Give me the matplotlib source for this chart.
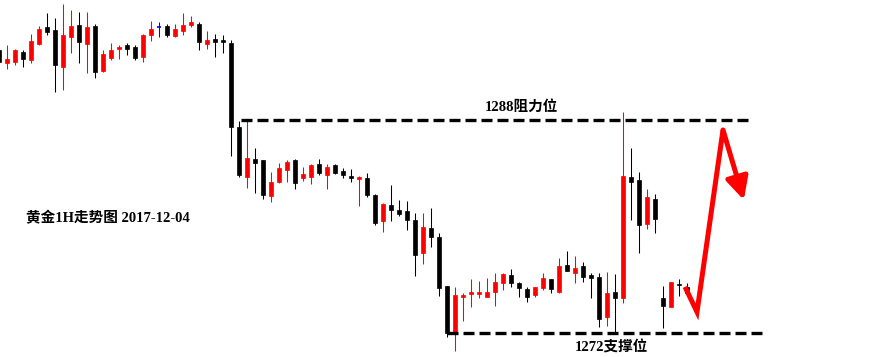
import matplotlib
matplotlib.use("Agg")
import matplotlib.pyplot as plt
from matplotlib.patches import Rectangle

plt.rcParams['font.family'] = ['Liberation Serif', 'Noto Sans CJK SC', 'DejaVu Sans']

# 黄金 1H candles, 2017-12-04
opens = [1293.25, 1292.28, 1292.35, 1293.10, 1292.50, 1293.70, 1294.98, 1294.75, 1291.98, 1294.23,
         1295.13, 1293.70, 1295.05, 1291.68, 1292.65, 1293.33, 1293.63, 1293.48, 1292.73, 1294.38,
         1294.98, 1295.05, 1294.30, 1294.68, 1295.13, 1295.20, 1293.70, 1294.08, 1294.00, 1293.78,
         1287.48, 1283.73, 1285.08, 1285.00, 1282.30, 1283.35, 1284.25, 1285.00, 1283.65, 1283.73,
         1284.70, 1283.88, 1284.63, 1284.18, 1283.80, 1283.58, 1283.65, 1282.38, 1280.43, 1281.63,
         1281.25, 1281.18, 1280.50, 1278.03, 1279.90, 1279.23, 1275.55, 1272.10, 1274.73, 1274.95,
         1274.95, 1274.73, 1275.10, 1275.78, 1276.38, 1275.78, 1275.33, 1274.88, 1275.40, 1276.08,
         1275.10, 1277.13, 1276.53, 1277.05, 1276.38, 1276.23, 1273.23, 1275.10, 1274.65, 1283.73,
         1283.50, 1280.20, 1282.08, 1274.65, 1273.98, 1275.70, 1275.48]
highs = [1293.40, 1293.63, 1293.33, 1293.25, 1294.45, 1295.05, 1296.03, 1295.65, 1296.70, 1296.25,
         1296.10, 1296.10, 1295.20, 1293.25, 1293.78, 1293.63, 1293.78, 1293.63, 1294.45, 1295.43,
         1295.35, 1295.20, 1295.20, 1296.03, 1295.80, 1295.35, 1294.68, 1294.45, 1294.38, 1294.00,
         1287.93, 1287.93, 1285.90, 1285.00, 1284.10, 1284.78, 1285.00, 1285.08, 1284.48, 1284.70,
         1285.08, 1284.70, 1284.70, 1284.40, 1284.33, 1283.80, 1284.03, 1282.45, 1281.78, 1283.13,
         1282.00, 1281.93, 1281.03, 1281.03, 1281.40, 1279.53, 1275.55, 1275.48, 1275.03, 1276.08,
         1275.93, 1276.15, 1276.53, 1276.53, 1276.83, 1275.85, 1275.48, 1275.48, 1276.53, 1276.08,
         1277.65, 1278.18, 1277.80, 1277.35, 1276.53, 1276.53, 1276.60, 1276.45, 1288.60, 1285.90,
         1284.10, 1282.83, 1282.45, 1275.55, 1275.85, 1276.08, 1275.78]
lows = [1292.28, 1291.83, 1292.13, 1291.98, 1292.28, 1293.63, 1294.38, 1290.10, 1290.25, 1293.03,
        1292.28, 1291.53, 1291.15, 1291.60, 1292.50, 1292.58, 1292.88, 1292.50, 1292.35, 1293.93,
        1294.23, 1294.23, 1294.23, 1294.38, 1294.98, 1293.25, 1293.33, 1292.73, 1293.03, 1285.30,
        1283.73, 1282.90, 1282.53, 1282.08, 1281.85, 1283.28, 1283.35, 1282.83, 1283.43, 1283.20,
        1283.88, 1282.83, 1283.95, 1283.65, 1283.35, 1281.55, 1282.23, 1280.13, 1279.60, 1280.43,
        1280.80, 1279.75, 1276.30, 1277.20, 1278.48, 1274.80, 1271.73, 1270.68, 1272.93, 1273.98,
        1274.65, 1274.73, 1274.05, 1275.25, 1275.48, 1274.73, 1274.35, 1274.73, 1275.25, 1275.03,
        1275.03, 1276.68, 1275.78, 1275.85, 1274.65, 1272.48, 1272.55, 1272.03, 1274.28, 1280.50,
        1278.03, 1279.83, 1279.53, 1272.40, 1273.98, 1274.80, 1275.03]
closes = [1292.35, 1292.58, 1293.25, 1292.58, 1293.93, 1294.83, 1294.60, 1292.13, 1294.38, 1295.05,
          1293.85, 1294.98, 1291.60, 1292.95, 1293.25, 1293.48, 1293.33, 1292.65, 1294.38, 1294.83,
          1294.98, 1294.38, 1294.83, 1295.13, 1295.35, 1293.85, 1294.00, 1293.85, 1293.85, 1287.48,
          1283.88, 1285.15, 1284.78, 1282.38, 1283.35, 1284.40, 1284.85, 1283.28, 1283.95, 1284.63,
          1284.03, 1284.48, 1284.03, 1283.88, 1283.65, 1283.73, 1282.38, 1280.28, 1281.70, 1281.25,
          1280.95, 1280.50, 1277.88, 1279.98, 1279.23, 1275.40, 1272.00, 1274.88, 1274.88, 1275.10,
          1275.10, 1275.10, 1275.85, 1276.45, 1275.78, 1275.40, 1274.73, 1275.48, 1276.15, 1275.33,
          1277.05, 1276.68, 1276.90, 1276.23, 1276.15, 1273.08, 1275.03, 1274.65, 1283.80, 1283.35,
          1280.13, 1282.23, 1280.58, 1274.05, 1275.85, 1275.63, 1275.03]

resistance = 1288
support = 1272
res_span = (30.25, 93.6)
sup_span = (56.0, 95.5)

# forecast path drawn in red
path_x = [85.75, 87.25, 90.5, 93.1]
path_y = [1275.48, 1273.6, 1287.25, 1282.0]

fig = plt.figure(figsize=(8.69, 3.57), dpi=100)
ax = fig.add_axes([0, 0, 1, 1])
ax.set_xlim(0.125, 108.75)
ax.set_ylim(1270.22, 1297.0)
ax.axis('off')

body_w = 0.62
for i, (o, h, l, c) in enumerate(zip(opens, highs, lows, closes)):
    if c > o:
        col = 'red'
    elif c < o:
        col = 'black'
    else:
        col = 'blue'
    ax.vlines(i, l, h, color=col, lw=0.75)
    if c == o:
        ax.hlines(o, i - body_w / 2, i + body_w / 2, color=col, lw=1.2)
    else:
        ax.add_patch(Rectangle((i - body_w / 2, min(o, c)), body_w, abs(c - o),
                               facecolor=col, edgecolor=col, lw=0.5))

ax.hlines(resistance, *res_span, colors='black', lw=2.4, linestyles=(0, (3.3, 1.5)))
ax.hlines(support, *sup_span, colors='black', lw=2.4, linestyles=(0, (3.3, 1.5)))

ax.text(65.3, 1288.95, f'{resistance}阻力位', ha='center', va='center', fontsize=10.5,
        fontweight='bold')
ax.text(76.5, 1270.9, f'{support}支撑位', ha='center', va='center', fontsize=10.5,
        fontweight='bold')
ax.text(3.4, 1280.65, '黄金1H走势图 2017-12-04', ha='left', va='center', fontsize=10.5,
        fontweight='bold')

ax.plot(path_x[:3], path_y[:3], color='red', lw=3.6, solid_joinstyle='miter',
        solid_capstyle='butt')
ax.annotate('', xy=(path_x[3], path_y[3]), xytext=(path_x[2], path_y[2]),
            arrowprops=dict(arrowstyle='-|>,head_length=1.35,head_width=0.68',
                            mutation_scale=10, color='red', lw=3.6,
                            shrinkA=0, shrinkB=0))

fig.savefig('out.png', dpi=100, facecolor='white')
